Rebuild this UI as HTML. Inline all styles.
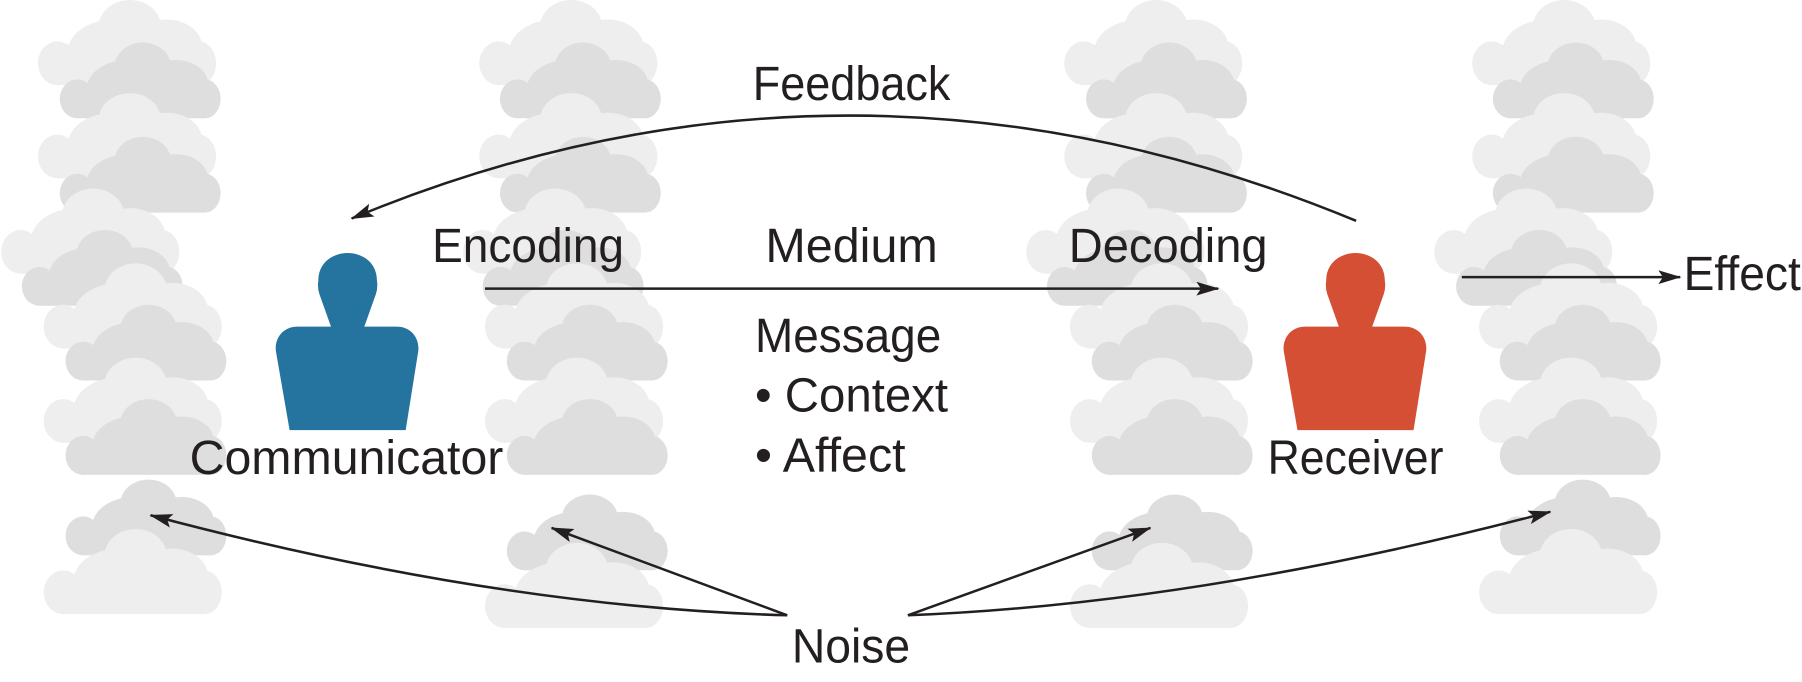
<!DOCTYPE html>
<html><head><meta charset="utf-8"><style>
html,body{margin:0;padding:0;background:#fff;width:1802px;height:682px;overflow:hidden}
svg{display:block}
text{font-family:"Liberation Sans","DejaVu Sans",sans-serif;font-size:42px;fill:#231f20}
</style></head><body>
<svg width="1802" height="682" viewBox="0 0 1568 593" preserveAspectRatio="none" xmlns="http://www.w3.org/2000/svg">
<defs>
<g id="cl">
<ellipse cx="17" cy="55" rx="17" ry="19"/>
<ellipse cx="66" cy="45" rx="40" ry="28"/>
<ellipse cx="80" cy="23" rx="27" ry="23"/>
<ellipse cx="112" cy="41" rx="31" ry="24"/>
<ellipse cx="140" cy="55" rx="15" ry="19"/>
<rect x="17" y="40" width="123" height="34"/>
</g>
<marker id="ah" markerWidth="20" markerHeight="12" refX="19" refY="6" orient="auto" markerUnits="userSpaceOnUse">
<path d="M0,0 L20,6 L0,12 L4,6 Z" fill="#231f20"/>
</marker>
</defs>

<g id="clouds">
<use href="#cl" fill="#eeeeee" transform="translate(33,0)"/>
<use href="#cl" fill="#dedede" transform="translate(52,37) scale(0.903,0.89)"/>
<use href="#cl" fill="#eeeeee" transform="translate(33,81)"/>
<use href="#cl" fill="#dedede" transform="translate(52,119) scale(0.903,0.89)"/>
<use href="#cl" fill="#eeeeee" transform="translate(1,164)"/>
<use href="#cl" fill="#dedede" transform="translate(19,200) scale(0.903,0.89)"/>
<use href="#cl" fill="#eeeeee" transform="translate(38,229)"/>
<use href="#cl" fill="#dedede" transform="translate(57,265) scale(0.903,0.89)"/>
<use href="#cl" fill="#eeeeee" transform="translate(38,311)"/>
<use href="#cl" fill="#dedede" transform="translate(57,347) scale(0.903,0.89)"/>
<use href="#cl" fill="#dedede" transform="translate(57,417) scale(0.903,0.89)"/>
<use href="#cl" fill="#eeeeee" transform="translate(38,460)"/>

<use href="#cl" fill="#eeeeee" transform="translate(417,0)"/>
<use href="#cl" fill="#dedede" transform="translate(435,37) scale(0.903,0.89)"/>
<use href="#cl" fill="#eeeeee" transform="translate(417,81)"/>
<use href="#cl" fill="#dedede" transform="translate(435,119) scale(0.903,0.89)"/>
<use href="#cl" fill="#eeeeee" transform="translate(403,164)"/>
<use href="#cl" fill="#dedede" transform="translate(420,200) scale(0.903,0.89)"/>
<use href="#cl" fill="#eeeeee" transform="translate(422,229)"/>
<use href="#cl" fill="#dedede" transform="translate(441,265) scale(0.903,0.89)"/>
<use href="#cl" fill="#eeeeee" transform="translate(422,311)"/>
<use href="#cl" fill="#dedede" transform="translate(441,347) scale(0.903,0.89)"/>
<use href="#cl" fill="#dedede" transform="translate(441,430) scale(0.903,0.89)"/>
<use href="#cl" fill="#eeeeee" transform="translate(422,472)"/>

<use href="#cl" fill="#eeeeee" transform="translate(926,0)"/>
<use href="#cl" fill="#dedede" transform="translate(945,37) scale(0.903,0.89)"/>
<use href="#cl" fill="#eeeeee" transform="translate(926,81)"/>
<use href="#cl" fill="#dedede" transform="translate(945,119) scale(0.903,0.89)"/>
<use href="#cl" fill="#eeeeee" transform="translate(893,164)"/>
<use href="#cl" fill="#dedede" transform="translate(911,200) scale(0.903,0.89)"/>
<use href="#cl" fill="#eeeeee" transform="translate(931,229)"/>
<use href="#cl" fill="#dedede" transform="translate(950,265) scale(0.903,0.89)"/>
<use href="#cl" fill="#eeeeee" transform="translate(931,311)"/>
<use href="#cl" fill="#dedede" transform="translate(950,347) scale(0.903,0.89)"/>
<use href="#cl" fill="#dedede" transform="translate(950,430) scale(0.903,0.89)"/>
<use href="#cl" fill="#eeeeee" transform="translate(931,472)"/>

<use href="#cl" fill="#eeeeee" transform="translate(1281,0)"/>
<use href="#cl" fill="#dedede" transform="translate(1299,37) scale(0.903,0.89)"/>
<use href="#cl" fill="#eeeeee" transform="translate(1281,81)"/>
<use href="#cl" fill="#dedede" transform="translate(1299,119) scale(0.903,0.89)"/>
<use href="#cl" fill="#eeeeee" transform="translate(1248,164)"/>
<use href="#cl" fill="#dedede" transform="translate(1267,200) scale(0.903,0.89)"/>
<use href="#cl" fill="#eeeeee" transform="translate(1287,229)"/>
<use href="#cl" fill="#dedede" transform="translate(1305,265) scale(0.903,0.89)"/>
<use href="#cl" fill="#eeeeee" transform="translate(1287,311)"/>
<use href="#cl" fill="#dedede" transform="translate(1305,347) scale(0.903,0.89)"/>
<use href="#cl" fill="#dedede" transform="translate(1305,417) scale(0.903,0.89)"/>
<use href="#cl" fill="#eeeeee" transform="translate(1287,460)"/>
</g>

<path fill="#25739f" d="M288 284 L278 256 Q276 250 277 244 C277 228 290 220 302.5 220 C315 220 328 228 328 244 Q329 250 327 256 L317 284 L345 284 C357 284 365 293 364 305 L353 374 L252 374 L240 305 C239 293 247 284 259 284 Z"/>
<path fill="#d44f33" transform="translate(877,0)" d="M288 284 L278 256 Q276 250 277 244 C277 228 290 220 302.5 220 C315 220 328 228 328 244 Q329 250 327 256 L317 284 L345 284 C357 284 365 293 364 305 L353 374 L252 374 L240 305 C239 293 247 284 259 284 Z"/>

<g fill="none" stroke="#231f20" stroke-width="2.2">
<path d="M1180 192 Q740 10 306 190" marker-end="url(#ah)"/>
<path d="M422 251 L1060 251" marker-end="url(#ah)"/>
<path d="M1272 241 L1462 241" marker-end="url(#ah)"/>
<path d="M685 535 Q432 528 131 448" marker-end="url(#ah)"/>
<path d="M685 535 L480 459" marker-end="url(#ah)"/>
<path d="M790 535 L1001 459" marker-end="url(#ah)"/>
<path d="M790 535 Q1045 525 1349 445" marker-end="url(#ah)"/>
</g>

<text x="655" y="87" textLength="172" lengthAdjust="spacingAndGlyphs">Feedback</text>
<text x="376" y="228" textLength="167" lengthAdjust="spacingAndGlyphs">Encoding</text>
<text x="666" y="228" textLength="150" lengthAdjust="spacingAndGlyphs">Medium</text>
<text x="930" y="228" textLength="173" lengthAdjust="spacingAndGlyphs">Decoding</text>
<text x="1465" y="252" textLength="102" lengthAdjust="spacingAndGlyphs">Effect</text>
<text x="657" y="306" textLength="162" lengthAdjust="spacingAndGlyphs">Message</text>
<text x="657" y="358" textLength="168" lengthAdjust="spacingAndGlyphs">• Context</text>
<text x="657" y="410" textLength="131" lengthAdjust="spacingAndGlyphs">• Affect</text>
<text x="165" y="412" textLength="273" lengthAdjust="spacingAndGlyphs">Communicator</text>
<text x="1103" y="412" textLength="153" lengthAdjust="spacingAndGlyphs">Receiver</text>
<text x="689" y="576" textLength="103" lengthAdjust="spacingAndGlyphs">Noise</text>
</svg>
</body></html>
